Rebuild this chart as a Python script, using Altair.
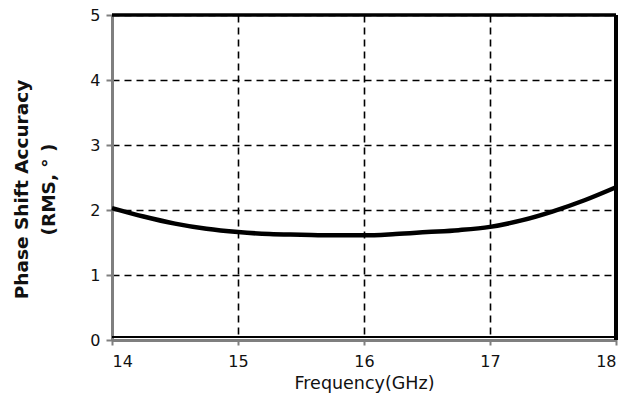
import altair as alt
import pandas as pd

# Frequency sweep (GHz) and RMS phase error (degrees)
freq_ghz = [14.0, 14.25, 14.5, 14.75, 15.0, 15.25, 15.5, 15.75, 16.0,
            16.25, 16.5, 16.75, 17.0, 17.25, 17.5, 17.75, 18.0]
rms_phase = [2.03, 1.90, 1.79, 1.71, 1.66, 1.63, 1.62, 1.61, 1.61,
             1.63, 1.66, 1.69, 1.74, 1.84, 1.98, 2.15, 2.35]

x_ticks = [14, 15, 16, 17, 18]
y_ticks = [0, 1, 2, 3, 4, 5]

df = pd.DataFrame({"freq": freq_ghz, "rms": rms_phase})

FONT = "DejaVu Sans"

x_scale = alt.Scale(domain=[14, 18], nice=False, zero=False)
y_scale = alt.Scale(domain=[0, 5], nice=False)

x_axis = alt.Axis(
    values=x_ticks, format="d", title="Frequency(GHz)", grid=True,
    gridColor="black", gridDash=[7, 5], gridWidth=1.6,
    domainColor="#7f7f7f", domainWidth=3, tickColor="#7f7f7f",
    tickWidth=2, tickSize=5, labelFont=FONT, labelFontSize=16,
    labelColor="#111111", labelPadding=8, titleFont=FONT,
    titleFontSize=17.5, titleFontWeight="normal", titleColor="#111111",
    titlePadding=5,
)
y_axis = alt.Axis(
    values=y_ticks, format="d", title=["Phase Shift Accuracy", "(RMS, ° )"],
    grid=True, gridColor="black", gridDash=[7, 5], gridWidth=1.6,
    domainColor="#7f7f7f", domainWidth=3, tickColor="#7f7f7f",
    tickWidth=2, tickSize=6, labelFont=FONT, labelFontSize=16,
    labelColor="#111111", labelPadding=6, titleFont=FONT,
    titleFontSize=18.5, titleFontWeight="bold", titleColor="#111111",
    titleAngle=-90, titleAlign="center", titleBaseline="top",
    titleX=-100, titleY=174, titleLineHeight=27,
)

curve = alt.Chart(df).mark_line(
    color="black", strokeWidth=4.5, interpolate="monotone"
).encode(
    x=alt.X("freq:Q", scale=x_scale, axis=x_axis),
    y=alt.Y("rms:Q", scale=y_scale, axis=y_axis),
)

# Plot frame: heavy black edges on top, right and bottom
frame_top = alt.Chart().mark_rule(color="black", strokeWidth=3.5).encode(
    x=alt.datum(14, scale=x_scale), x2=alt.datum(18),
    y=alt.datum(5, scale=y_scale),
)
frame_right = alt.Chart().mark_rule(color="black", strokeWidth=4).encode(
    x=alt.datum(18, scale=x_scale),
    y=alt.datum(0, scale=y_scale), y2=alt.datum(5),
)
frame_bottom = alt.Chart().mark_rule(
    color="black", strokeWidth=2, yOffset=-3
).encode(
    x=alt.datum(14, scale=x_scale), x2=alt.datum(18),
    y=alt.datum(0, scale=y_scale),
)

chart = alt.layer(frame_bottom, curve, frame_top, frame_right).properties(
    width=504, height=325,
    autosize=alt.AutoSizeParams(type="none"),
    padding={"left": 112, "top": 15, "right": 15, "bottom": 64},
    background="white",
).configure_view(stroke=None)

chart.save("out.html", embed_options={"renderer": "svg", "actions": False})
